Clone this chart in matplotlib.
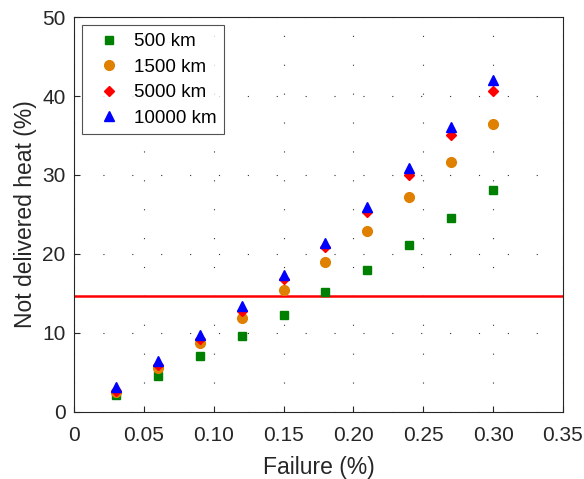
"""Not delivered heat vs. failure rate for several network distances."""

import matplotlib
matplotlib.use("Agg")
import matplotlib.pyplot as plt

# Failure rate (%) on the x axis
failure = [0.03, 0.06, 0.09, 0.12, 0.15, 0.18, 0.21, 0.24, 0.27, 0.30]

# Not delivered heat (%) for each distance
heat_500 = [2.1, 4.6, 7.1, 9.6, 12.3, 15.2, 18.0, 21.1, 24.5, 28.1]
heat_1500 = [2.5, 5.6, 8.7, 11.9, 15.4, 19.0, 22.9, 27.2, 31.7, 36.5]
heat_5000 = [2.7, 5.9, 9.3, 12.8, 16.8, 20.9, 25.3, 30.0, 35.1, 40.6]
heat_10000 = [3.1, 6.4, 9.8, 13.4, 17.4, 21.4, 26.0, 30.9, 36.1, 42.0]

threshold = 14.7  # red reference line

x_ticks = [0, 0.05, 0.10, 0.15, 0.20, 0.25, 0.30, 0.35]
x_tick_labels = ["0", "0.05", "0.10", "0.15", "0.20", "0.25", "0.30", "0.35"]
y_ticks = [0, 10, 20, 30, 40, 50]

plt.rcParams["font.family"] = ["Liberation Sans", "DejaVu Sans"]
tick_fs = 15
label_fs = 16.5
legend_fs = 13.5

fig = plt.figure(figsize=(5.84, 4.79), dpi=100)
ax = fig.add_axes([0.1267, 0.1399, 0.8373, 0.8246])

ax.axhline(threshold, color="#ff0000", linewidth=1.8, zorder=2)

ax.plot(failure, heat_500, "s", color="#008000", markersize=6, label="500 km", zorder=3)
ax.plot(failure, heat_1500, "o", color="#df8000", markersize=7, label="1500 km", zorder=3)
ax.plot(failure, heat_5000, "D", color="#ff0000", markersize=5.5, label="5000 km", zorder=4)
ax.plot(failure, heat_10000, "^", color="#0000ff", markersize=7.5, label="10000 km", zorder=5)

ax.set_xlim(0, 0.35)
ax.set_ylim(0, 50)
ax.set_xticks(x_ticks)
ax.set_xticklabels(x_tick_labels)
ax.set_yticks(y_ticks)

# Sparse dotted grid like MATLAB's ':' grid
ax.grid(True, linestyle=(0, (1, 25)), linewidth=0.8, color="#333333")
ax.set_axisbelow(True)

for side in ax.spines.values():
    side.set_color("#262626")
    side.set_linewidth(0.8)
ax.tick_params(direction="in", length=4, width=0.8, color="#262626",
               labelsize=tick_fs, labelcolor="#262626",
               top=False, right=False)
ax.tick_params(axis="x", pad=10)
ax.tick_params(axis="y", pad=6)

ax.set_xlabel("Failure (%)", fontsize=label_fs, color="#262626", labelpad=8)
ax.set_ylabel("Not delivered heat (%)", fontsize=label_fs, color="#262626", labelpad=4)

leg = ax.legend(loc="upper left", fontsize=legend_fs, frameon=True, fancybox=False,
                borderaxespad=0.45, handletextpad=0.35, labelspacing=0.45,
                borderpad=0.4, handlelength=2.0)
leg.get_frame().set_edgecolor("#262626")
leg.get_frame().set_linewidth(0.8)

fig.savefig("out.png", dpi=100)
plt.close(fig)
